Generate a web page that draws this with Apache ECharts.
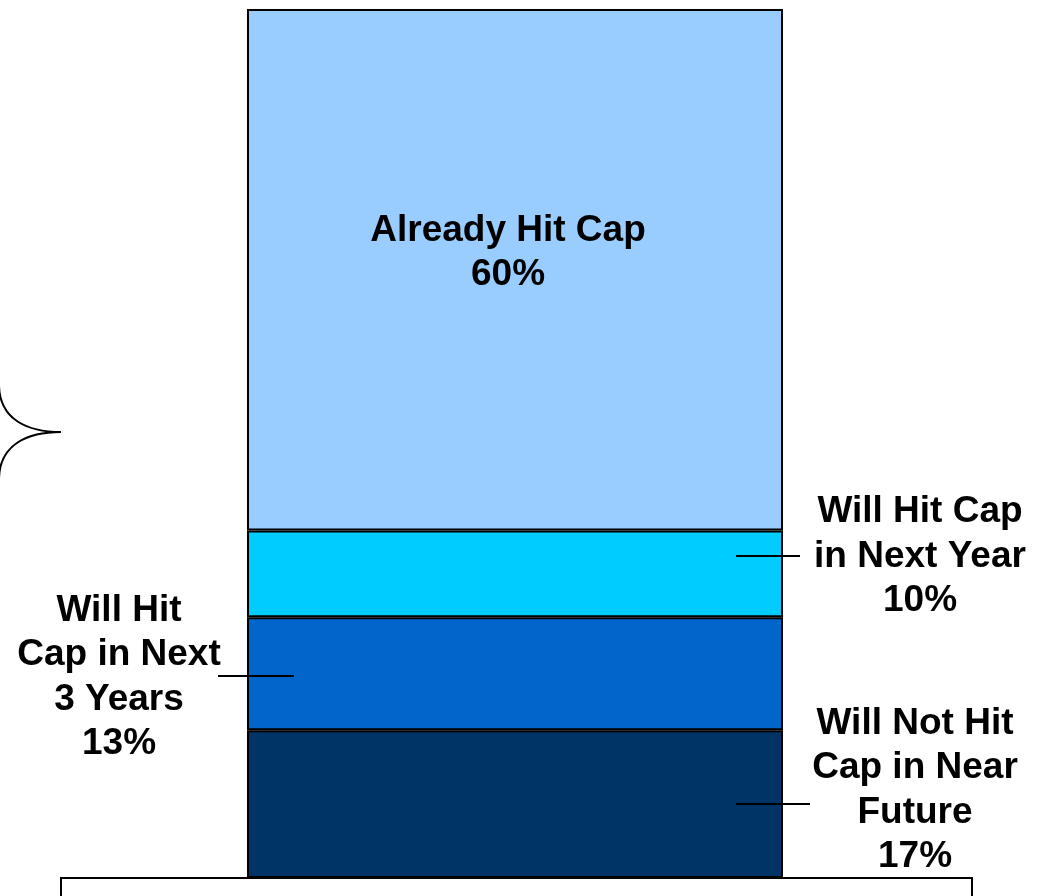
<!DOCTYPE html>
<html>
<head>
<meta charset="utf-8">
<script src="https://cdn.jsdelivr.net/npm/echarts@6/dist/echarts.min.js"></script>
<style>
html, body { margin: 0; padding: 0; background: #fff; }
#main { width: 1046px; height: 896px; }
</style>
</head>
<body>
<div id="main"></div>
<script>
// data, bottom segment first
const categories = ['Cap Status']
const segmentLabels = ['Will Not Hit\nCap in Near\nFuture', 'Will Hit\nCap in Next\n3 Years', 'Will Hit Cap\nin Next Year', 'Already Hit Cap']
const segmentValues = [17, 13, 10, 60]
const segmentColors = ['#003366', '#0066CC', '#00CCFF', '#99CCFF']
// label placement (px from the segment's top-left corner)
const labelPos = [[668, 60], [-128, 60], [673, 26], [261, 244]]
// leader lines: segment index, fraction up the segment, x start/end
const leaders = [
  { seg: 2, at: 0.7, x1: 736, x2: 800 },
  { seg: 1, at: 0.48, x1: 218, x2: 294 },
  { seg: 0, at: 0.5, x1: 736, x2: 810 }
]

const font = '"Liberation Sans", Arial, Helvetica, sans-serif'
const chart = echarts.init(document.getElementById('main'))

const series = segmentValues.map((v, i) => {
  return {
    type: 'bar',
    stack: 'total',
    barWidth: '100%',
    data: [v],
    itemStyle: {
      color: segmentColors[i],
      borderColor: '#000',
      borderWidth: 2
    },
    label: {
      show: true,
      position: labelPos[i],
      align: 'center',
      verticalAlign: 'middle',
      formatter: () => segmentLabels[i] + '\n' + v + '%',
      color: '#000',
      fontFamily: font,
      fontWeight: 'bold',
      fontSize: 37,
      lineHeight: 44.5
    },
    emphasis: { disabled: true }
  }
})

chart.setOption({
  animation: false,
  grid: { left: 247, right: 263, top: 9, bottom: 18 },
  xAxis: {
    type: 'category',
    data: categories,
    show: false
  },
  yAxis: {
    type: 'value',
    min: 0,
    max: 100,
    show: false
  },
  series: series
})

// leader lines and decorations
const graphics = leaders.map(l => {
  let base = 0
  for (let i = 0; i < l.seg; i++) base += segmentValues[i]
  const y = Math.round(chart.convertToPixel({ yAxisIndex: 0 }, base + l.at * segmentValues[l.seg]))
  return {
    type: 'line',
    z: 100,
    shape: { x1: l.x1, y1: y, x2: l.x2, y2: y },
    style: { stroke: '#000', lineWidth: 2 }
  }
})
// brace tip on the left
graphics.push({
  type: 'bezierCurve',
  z: 100,
  shape: { x1: -1, y1: 386, cpx1: 0, cpy1: 420, cpx2: 28, cpy2: 432, x2: 61, y2: 432 },
  style: { stroke: '#000', lineWidth: 2, fill: null }
})
graphics.push({
  type: 'bezierCurve',
  z: 100,
  shape: { x1: 61, y1: 432, cpx1: 28, cpy1: 432, cpx2: 0, cpy2: 444, x2: -1, y2: 478 },
  style: { stroke: '#000', lineWidth: 2, fill: null }
})
// white note box at the bottom
graphics.push({
  type: 'rect',
  z: 100,
  shape: { x: 61, y: 878, width: 911, height: 40 },
  style: { fill: '#fff', stroke: '#000', lineWidth: 2 }
})
chart.setOption({ graphic: graphics })
</script>
</body>
</html>
